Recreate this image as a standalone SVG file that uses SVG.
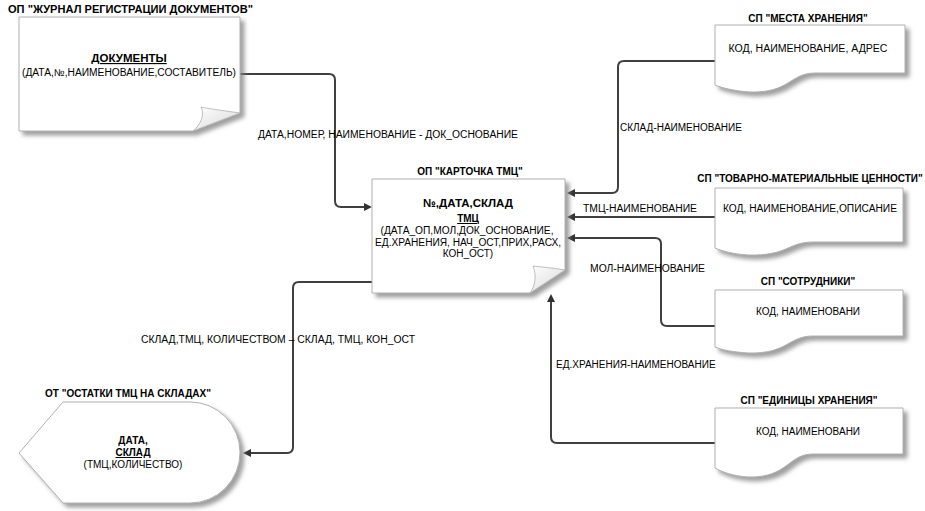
<svg xmlns="http://www.w3.org/2000/svg" width="925" height="511" viewBox="0 0 925 511">
<style>
text{font-family:"Liberation Sans",Arial,sans-serif;font-size:10px;fill:#000}
.t{font-weight:bold}
.b{font-weight:bold}
.bb{font-weight:bold;font-size:11.5px}
.u{text-decoration:underline}
.c{text-anchor:middle}
.shape{fill:#fff;stroke:#b0b0b0;stroke-width:1;filter:url(#sh)}
.flap{fill:url(#fl);stroke:#b0b0b0;stroke-width:0.8}
.con{fill:none;stroke:#404040;stroke-width:2}
</style>
<defs>
<filter id="sh" x="-10%" y="-10%" width="125%" height="130%">
<feDropShadow dx="4" dy="4" stdDeviation="2" flood-color="#808080" flood-opacity="0.75"/>
</filter>
<linearGradient id="fl" x1="0" y1="0" x2="1" y2="1">
<stop offset="0" stop-color="#ffffff"/>
<stop offset="1" stop-color="#d8d8d8"/>
</linearGradient>
<marker id="ar" markerUnits="userSpaceOnUse" markerWidth="9" markerHeight="9" refX="0" refY="4" orient="auto">
<path d="M0,0 L8,4 L0,8 Z" fill="#333"/>
</marker>
</defs>

<g id="connectors">
<path class="con" marker-end="url(#ar)" d="M240,74 H329 Q335,74 335,80 V201 Q335,207 341,207 H364"/>
<path class="con" marker-end="url(#ar)" d="M715,61 H624 Q618,61 618,67 V187 Q618,193 612,193 H575"/>
<path class="con" marker-end="url(#ar)" d="M715,217 H575"/>
<path class="con" marker-end="url(#ar)" d="M715,326 H667 Q661,326 661,320 V244 Q661,238 655,238 H575"/>
<path class="con" marker-end="url(#ar)" d="M715,443 H557 Q551,443 551,437 V302"/>
<path class="con" marker-end="url(#ar)" d="M372,282 H299 Q293,282 293,288 V447 Q293,453 287,453 H251"/>
<text x="258" y="138" textLength="260" lengthAdjust="spacingAndGlyphs">ДАТА,НОМЕР, НАИМЕНОВАНИЕ - ДОК_ОСНОВАНИЕ</text>
<text x="620" y="131">СКЛАД-НАИМЕНОВАНИЕ</text>
<text x="583" y="212" textLength="114" lengthAdjust="spacingAndGlyphs">ТМЦ-НАИМЕНОВАНИЕ</text>
<text x="590" y="272" textLength="115" lengthAdjust="spacingAndGlyphs">МОЛ-НАИМЕНОВАНИЕ</text>
<text x="556" y="368">ЕД.ХРАНЕНИЯ-НАИМЕНОВАНИЕ</text>
<text x="141" y="343" textLength="274" lengthAdjust="spacingAndGlyphs">СКЛАД,ТМЦ, КОЛИЧЕСТВОМ –  СКЛАД, ТМЦ, КОН_ОСТ</text>
</g>

<g id="node-documents">
<text class="t" x="8" y="13" textLength="245" lengthAdjust="spacingAndGlyphs">ОП "ЖУРНАЛ РЕГИСТРАЦИИ ДОКУМЕНТОВ"</text>
<path class="shape" d="M19,17 H240 V113 L193,131 H19 Z"/>
<path class="flap" d="M240,113 C226,111 210,109 201,107 C205,115 201,124 193,131 Z"/>
<text class="bb u c" x="129" y="62">ДОКУМЕНТЫ</text>
<text class="c" x="129" y="76" textLength="214" lengthAdjust="spacingAndGlyphs">(ДАТА,№,НАИМЕНОВАНИЕ,СОСТАВИТЕЛЬ)</text>
</g>

<g id="node-card">
<text class="t c" x="470" y="175">ОП "КАРТОЧКА ТМЦ"</text>
<path class="shape" d="M372,179 H565 V270 L530,293 H372 Z"/>
<path class="flap" d="M565,270 C554,268 542,267 533,266 C537,276 535,286 530,293 Z"/>
<text class="bb c" x="468" y="207">№,ДАТА,СКЛАД</text>
<text class="b u c" x="468" y="222">ТМЦ</text>
<text class="c" x="467" y="234" textLength="173" lengthAdjust="spacingAndGlyphs">(ДАТА_ОП,МОЛ,ДОК_ОСНОВАНИЕ,</text>
<text class="c" x="468" y="246" textLength="186" lengthAdjust="spacingAndGlyphs">ЕД.ХРАНЕНИЯ, НАЧ_ОСТ,ПРИХ,РАСХ,</text>
<text class="c" x="468" y="257">КОН_ОСТ)</text>
</g>

<g id="node-places">
<text class="t c" x="808" y="22">СП "МЕСТА ХРАНЕНИЯ"</text>
<path class="shape" d="M715,25 H905 V73 H815 C790,73 790,93 750,92 C735,91 722,88 715,85 Z"/>
<text class="c" x="808" y="52" textLength="159" lengthAdjust="spacingAndGlyphs">КОД, НАИМЕНОВАНИЕ, АДРЕС</text>
</g>

<g id="node-goods">
<text class="t c" x="810" y="182">СП "ТОВАРНО-МАТЕРИАЛЬНЫЕ ЦЕННОСТИ"</text>
<path class="shape" d="M715,188 H903 V242 H813 C788,242 788,256 748,255 C733,254 722,251 715,248 Z"/>
<text class="c" x="810" y="212" textLength="174" lengthAdjust="spacingAndGlyphs">КОД, НАИМЕНОВАНИЕ,ОПИСАНИЕ</text>
</g>

<g id="node-staff">
<text class="t c" x="808" y="285">СП "СОТРУДНИКИ"</text>
<path class="shape" d="M715,290 H903 V336 H813 C788,336 788,354 748,353 C733,352 722,350 715,347 Z"/>
<text class="c" x="808" y="315">КОД, НАИМЕНОВАНИ</text>
</g>

<g id="node-units">
<text class="t c" x="809" y="404">СП "ЕДИНИЦЫ ХРАНЕНИЯ"</text>
<path class="shape" d="M715,408 H903 V454 H813 C788,454 788,478 748,477 C733,476 722,472 715,468 Z"/>
<text class="c" x="808" y="435">КОД, НАИМЕНОВАНИ</text>
</g>

<g id="node-output">
<text class="t c" x="128" y="397">ОТ "ОСТАТКИ ТМЦ НА СКЛАДАХ"</text>
<path class="shape" d="M19,453 L63,402 H190 A50,50.5 0 0 1 190,503 H63 Z"/>
<text class="b c" x="133" y="444">ДАТА,</text>
<text class="b u c" x="133" y="456">СКЛАД</text>
<text class="c" x="133" y="468">(ТМЦ,КОЛИЧЕСТВО)</text>
</g>
</svg>
